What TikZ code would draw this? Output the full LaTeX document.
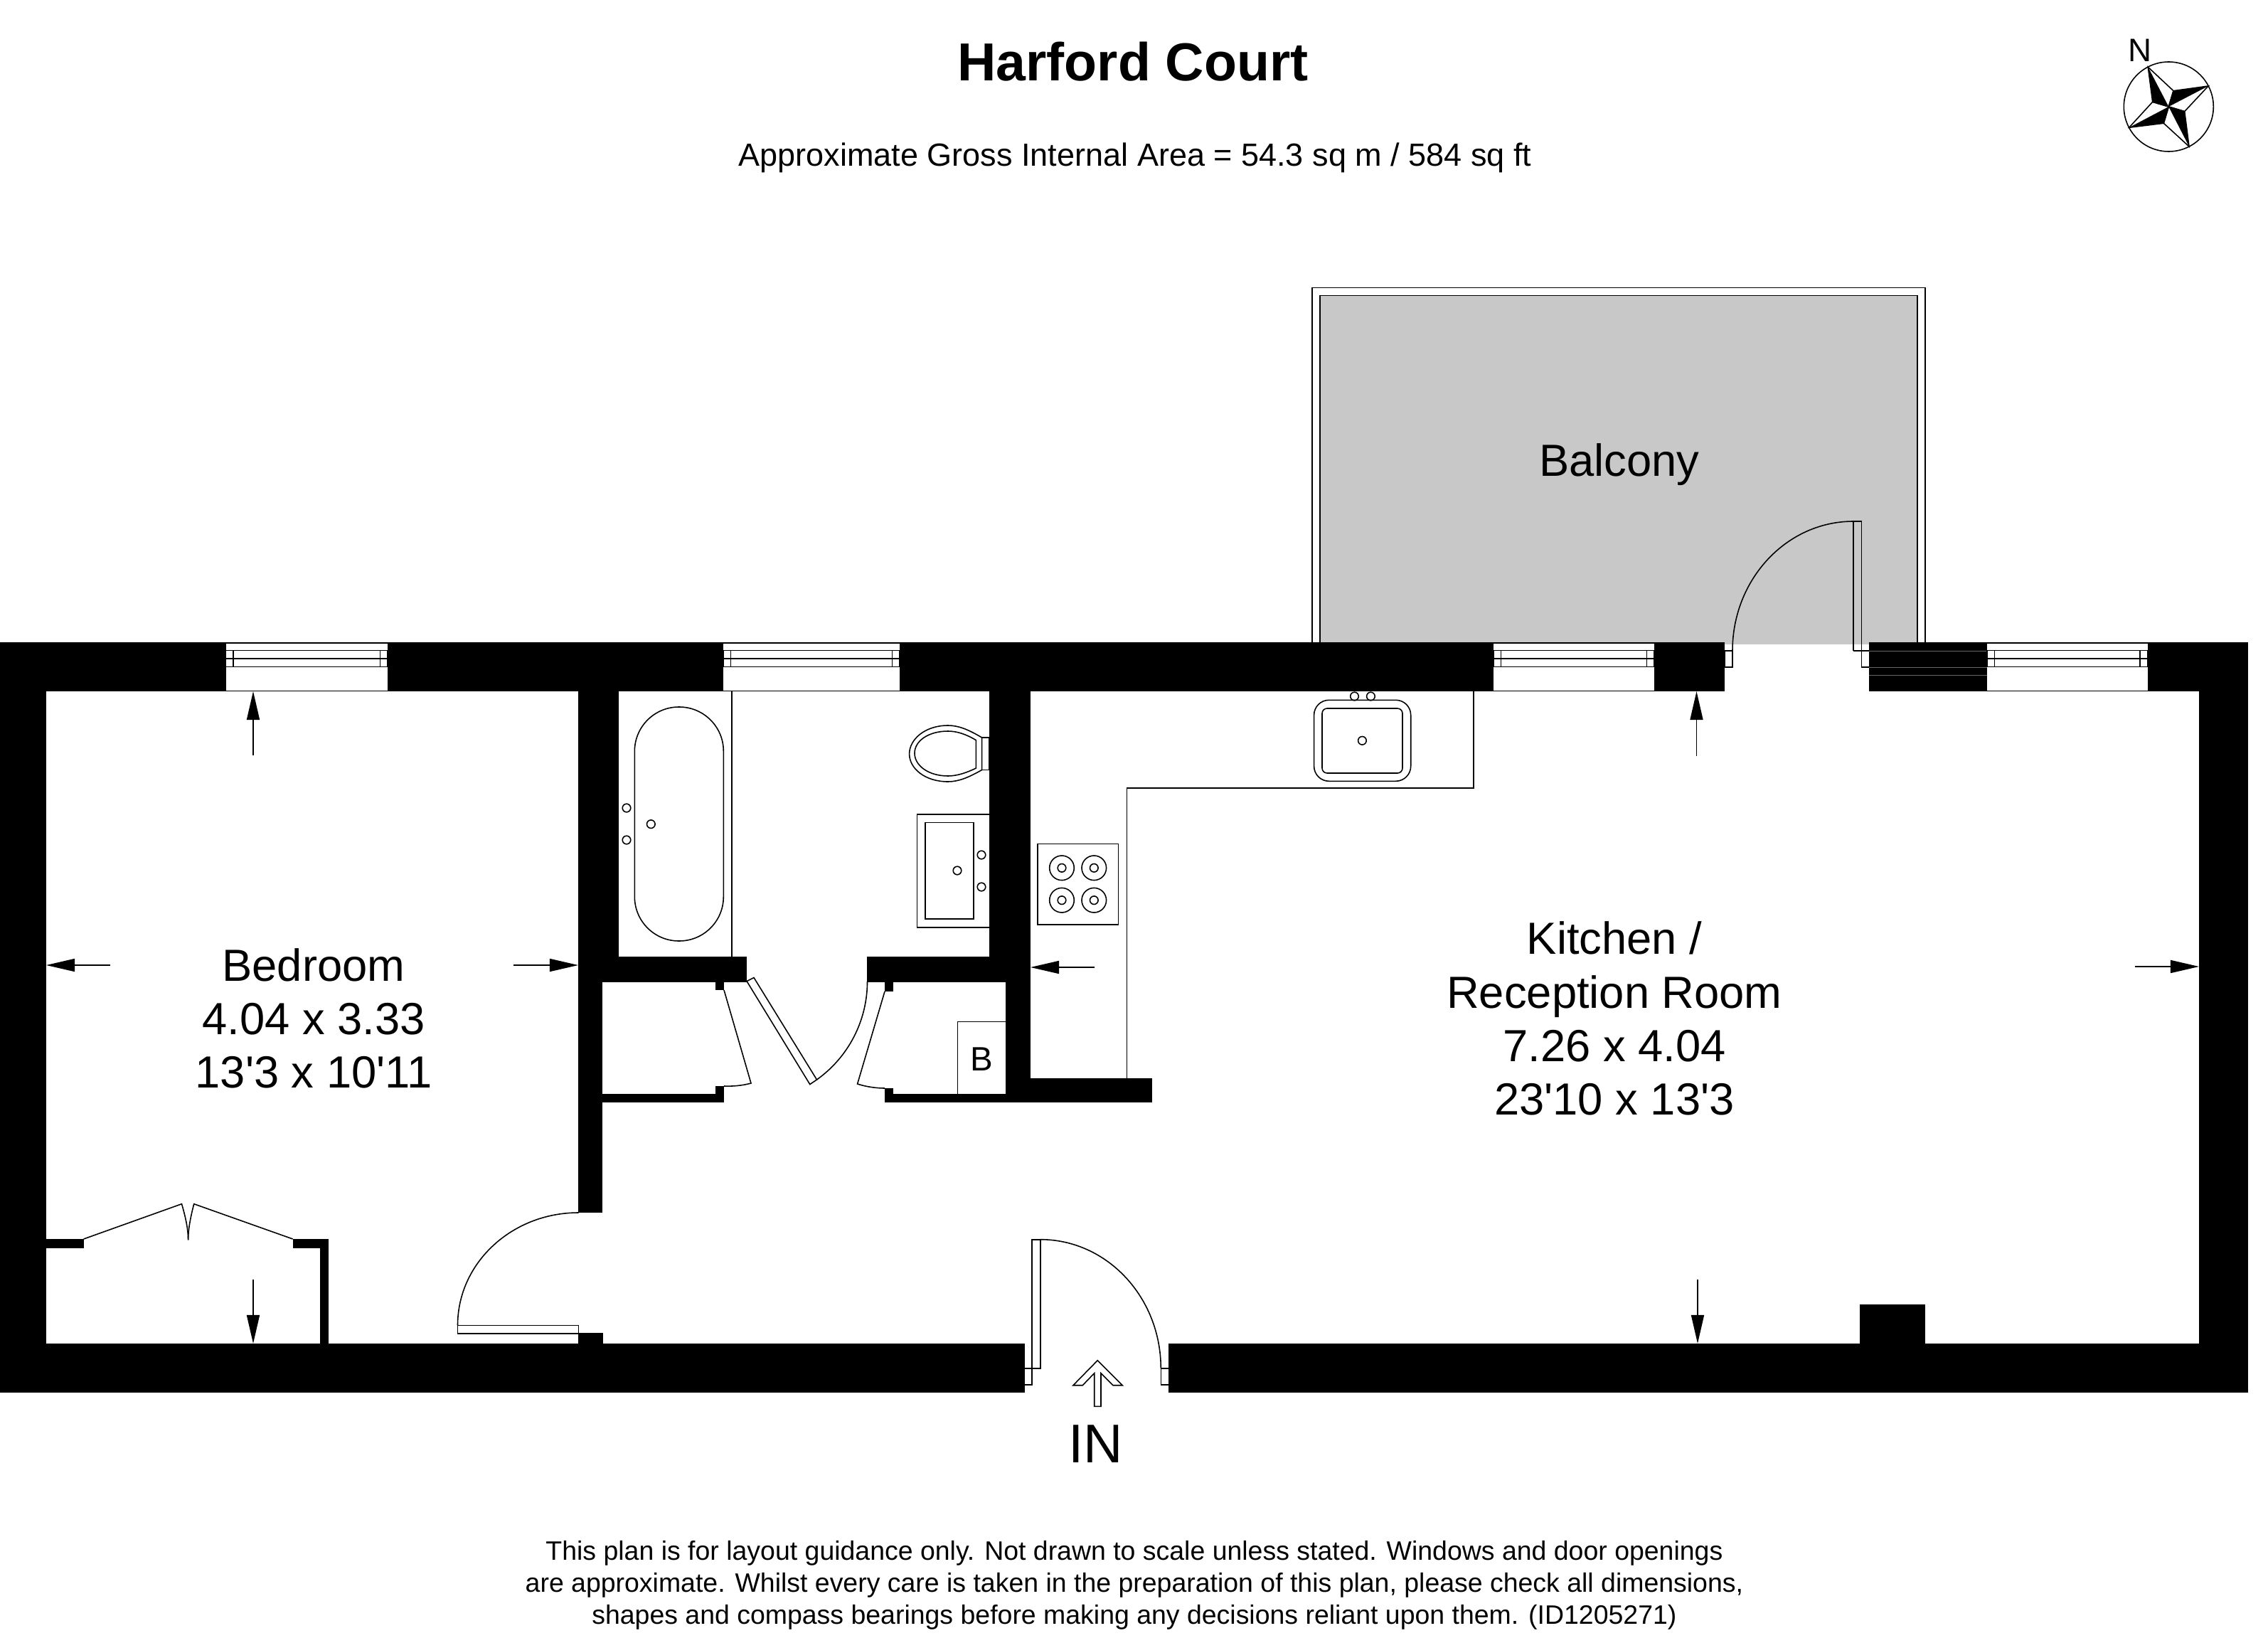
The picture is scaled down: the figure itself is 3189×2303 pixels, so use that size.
\documentclass[tikz,border=0pt]{standalone}
\usepackage{fontspec}
\setmainfont[Ligatures=TeXOff]{Liberation Sans}
\usetikzlibrary{arrows.meta}
\definecolor{balconygrey}{HTML}{C8C8C8}
\tikzset{
  wall/.style={fill=black},
  plan/.style={draw=black,line width=0.45pt},
  seam/.style={draw=black!60,line width=0.12pt},
  dimarrow/.style={draw=black,line width=0.45pt,-{Triangle[length=0.4cm,width=0.18cm]}},
  roomlabel/.style={align=center,font=\fontsize{18}{21.4}\selectfont,inner sep=0pt},
  smallprint/.style={align=center,font=\fontsize{10.65}{12.75}\selectfont,inner sep=0pt}
}
\begin{document}
\begin{tikzpicture}[x=0.01cm,y=0.01cm,yscale=-1]

\useasboundingbox (0,0) rectangle (3189,2303);

\node[font=\fontsize{21.4}{26}\selectfont\bfseries,inner sep=0pt] (title) at (1593,87) {Harford Court};
\node[font=\fontsize{12.8}{15}\selectfont,inner sep=0pt] (area) at (1596,222) {Approximate Gross Internal Area = 54.3 sq m / 584 sq ft};

\node[font=\fontsize{13}{15}\selectfont,inner sep=0pt] (north) at (3009,71) {N};
\draw[plan] (3049.3,150) circle (63);
\coordinate (O) at (3049.3,150);
\foreach \xa/\ya/\xb/\yb/\xc/\yc in {3020.3/94.3/3026.7/143.3/3056/127.7,3105/121/3056/127.7/3071.7/156.7,3078/206/3071.7/156.7/3042.3/173.3,2993.7/179.3/3042.3/173.3/3026.7/143.3}
{
  \fill[black] (\xa,\ya) -- (\xb,\yb) -- (O) -- cycle;
  \draw[plan] (\xb,\yb) -- (\xa,\ya) -- (\xc,\yc) -- (O) -- (\xb,\yb);
}

\fill[balconygrey] (1856,415) rectangle (2696,905.7);
\draw[plan] (1856,903) -- (1856,415.7) -- (2695.7,415.7) -- (2695.7,903);
\draw[plan] (1845,903) -- (1845,404.3) -- (2706.7,404.3) -- (2706.7,903);

\fill[wall] (0,903) rectangle (2425,972);
\fill[wall] (2628,903) rectangle (3161,972);
\fill[wall] (0,903) rectangle (65,1958);
\fill[wall] (3092,903) rectangle (3161,1958);
\fill[wall] (0,1889) rectangle (1441,1958);
\fill[wall] (1643,1889) rectangle (3161,1958);

\fill[wall] (813,972) rectangle (870.4,1345);
\fill[wall] (813,1345) rectangle (1050,1380.5);
\fill[wall] (813,1380) rectangle (847.4,1705);
\fill[wall] (813,1538) rectangle (1018,1550);
\fill[wall] (1005.6,1380) rectangle (1018,1392);
\fill[wall] (1005.6,1527) rectangle (1018,1550);

\fill[wall] (1391,972) rectangle (1449,1380);
\fill[wall] (1219,1345) rectangle (1449,1380.5);
\fill[wall] (1414,1380) rectangle (1449,1550);
\fill[wall] (1414,1516) rectangle (1620,1550);
\fill[wall] (1244,1538) rectangle (1620,1550);
\fill[wall] (1244,1380) rectangle (1256,1394);
\fill[wall] (1244,1530) rectangle (1256,1550);

\fill[wall] (65,1742) rectangle (117.7,1754.7);
\fill[wall] (411.6,1742) rectangle (462,1754.7);
\fill[wall] (450,1754) rectangle (462,1889);
\fill[wall] (813,1874) rectangle (848,1889);
\fill[wall] (2615,1834) rectangle (2707,1889);

\foreach \ya in {915,938,949}
{
  \draw[seam] (2628,\ya) -- (2794,\ya);
}

\foreach \xa/\xb in {317.5/545,1017/1265,2100/2326,2794/3019.6}
{
  \fill[white] (\xa,904) rectangle (\xb,971.5);
  \draw[plan] (\xa,904) -- (\xb,904);
  \draw[plan] (\xa,971.5) -- (\xb,971.5);
  \draw[plan] (\xa,914.5) rectangle (\xb,937.5);
  \draw[plan] (\xa,926) -- (\xb,926);
  \draw[plan] (\xa+10.5,914.5) -- (\xa+10.5,937.5);
  \draw[plan] (\xb-10.5,914.5) -- (\xb-10.5,937.5);
}

\draw[plan] (2425,915) rectangle (2436,938);
\draw[plan] (2436,915) arc[start angle=180,end angle=270,x radius=170,y radius=182];
\draw[plan] (2606,915) -- (2606,733) -- (2617.5,733) -- (2617.5,938) -- (2628,938);
\draw[plan] (2606,915) -- (2628,915);

\draw[plan,fill=white] (1451,1924) -- (1451,1742.7) -- (1462.7,1742.7) -- (1462.7,1924) -- cycle;
\draw[plan] (1462.7,1742.7) arc[start angle=270,end angle=360,x radius=169.6,y radius=181.3];
\draw[plan] (1440.7,1924) -- (1462.7,1924);
\draw[plan] (1440.7,1946.7) -- (1451,1946.7) -- (1451,1924);
\draw[plan] (1632.3,1924) rectangle (1643.3,1946.7);
\draw[plan] (1543.3,1912.7) -- (1509,1947.7) -- (1522.3,1947.7) -- (1538.7,1930.7) -- (1538.7,1977.3) -- (1548,1977.3) -- (1548,1930.7) -- (1565,1947.7) -- (1578.3,1947.7) -- cycle;

\draw[plan] (643.5,1863.3) rectangle (813.4,1875);
\draw[plan] (643.5,1863.3) arc[start angle=180,end angle=270,x radius=170,y radius=158.3];

\draw[plan] (117.7,1742) -- (255.5,1692.7) .. controls (262,1715) and (264.6,1730) .. (264.6,1743.3);
\draw[plan] (264.6,1743.3) .. controls (264.6,1730) and (267,1715) .. (272.7,1692.7) -- (411.6,1742);

\draw[plan] (1018,1392) -- (1056,1523) .. controls (1043,1526.5) and (1030,1527.5) .. (1018,1527);
\draw[plan] (1244,1394) -- (1205.6,1524) .. controls (1218,1528) and (1232,1530) .. (1244,1530);
\draw[plan] (1050,1379.5) -- (1060,1374.5) -- (1148.5,1518) -- (1138.8,1524.6) -- cycle;
\draw[plan] (1148.5,1518) arc[start angle=54.5,end angle=0,radius=169.4];
\draw[plan] (1346.4,1538) -- (1346.4,1436.5) -- (1414,1436.5);
\node[font=\fontsize{13.5}{15}\selectfont,inner sep=0pt] (boiler) at (1380,1489) {B};

\draw[plan] (1029,972) -- (1029,1345);
\draw[plan,rounded corners=17.7pt] (892.3,994) rectangle (1017.3,1323);
\foreach \xa/\ya in {881/1136,881/1181,915.3/1158.7,1380/1202,1380/1247,1346/1224,1904.5/979,1927.4/979,1915.4/1041.3}
{
  \draw[plan] (\xa,\ya) circle (5.8);
}

\draw[plan] (1380.6,1037) .. controls (1362,1026) and (1348,1020) .. (1333,1020) .. controls (1300,1020) and (1278.6,1040) .. (1278.6,1060) .. controls (1278.6,1080) and (1300,1099) .. (1333,1099) .. controls (1348,1099) and (1362,1093) .. (1380.6,1082.5) -- cycle;
\draw[plan] (1372.4,1040.7) .. controls (1358,1032) and (1345,1028) .. (1333,1028) .. controls (1305,1028) and (1286,1042) .. (1286,1059) .. controls (1286,1076) and (1305,1091) .. (1333,1091) .. controls (1345,1091) and (1358,1087) .. (1372.4,1080) -- cycle;
\draw[plan] (1380.6,1037) rectangle (1391,1082.5);

\draw[plan] (1391,1145) -- (1289.3,1145) -- (1289.3,1304) -- (1391,1304);
\draw[plan] (1301,1156.4) rectangle (1369,1292);

\draw[plan] (1459,1186.3) rectangle (1572.3,1300);
\foreach \xa in {1493,1538.3}
{
  \foreach \ya in {1220.3,1265.7}
  {
    \draw[plan] (\xa,\ya) circle (17.3);
    \draw[plan] (\xa,\ya) circle (5.8);
  }
}

\draw[plan] (1584.3,1516) -- (1584.3,1108) -- (2072,1108) -- (2072,972);
\draw[plan,rounded corners=6pt] (1847.6,984.3) rectangle (1983.7,1098.3);
\draw[plan,rounded corners=2pt] (1859,996) rectangle (1972,1087);

\foreach \xa/\ya/\xb/\yb in {356/1062/356/972,155/1357/65/1357,722/1357/813/1357,356/1799/356/1889,2385.5/1062.7/2385.5/972,1539/1360/1449/1360,3002/1359/3092/1359,2387/1799/2387/1889}
{
  \draw[dimarrow] (\xa,\ya) -- (\xb,\yb);
}

\node[roomlabel] (bedroom) at (441,1432) {Bedroom\\4.04 x 3.33\\13'3 x 10'11};
\node[roomlabel] (kitchen) at (2270,1432) {Kitchen /\\Reception Room\\7.26 x 4.04\\23'10 x 13'3};
\node[roomlabel] (balcony) at (2277,653) {Balcony};
\node[font=\fontsize{21.8}{24}\selectfont,inner sep=0pt] (entry) at (1541,2030) {IN};
\node[smallprint] (disclaimer) at (1595,2229) {This plan is for layout guidance only. Not drawn to scale unless stated. Windows and door openings\\are approximate. Whilst every care is taken in the preparation of this plan, please check all dimensions,\\shapes and compass bearings before making any decisions reliant upon them. (ID1205271)};

\end{tikzpicture}
\end{document}
